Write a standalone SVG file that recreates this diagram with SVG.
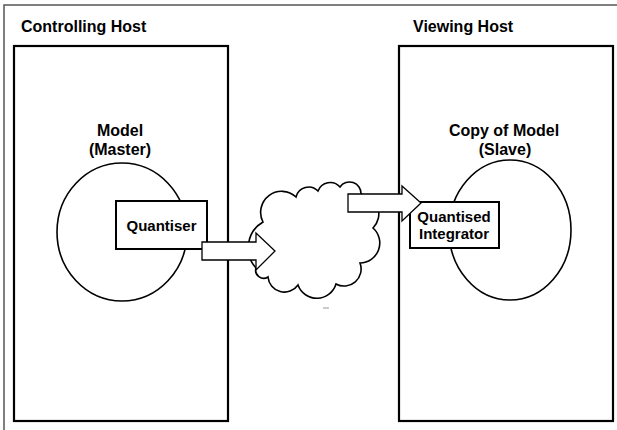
<svg xmlns="http://www.w3.org/2000/svg" width="617" height="430" viewBox="0 0 617 430">
<style>
  text { font-family: "Liberation Sans", Arial, sans-serif; font-weight: bold; fill: #000; }
  .title { font-size: 16px; }
  .lbl { font-size: 16px; text-anchor: middle; }
  .inner { font-size: 15px; text-anchor: middle; }
  .host { fill: #fff; stroke: #000; stroke-width: 2.2; }
  .shape { fill: #fff; stroke: #000; stroke-width: 1.6; }
  .box { fill: #fff; stroke: #000; stroke-width: 2; }
  .arrow { fill: #fff; stroke: #000; stroke-width: 1.3; stroke-linejoin: miter; }
</style>
<rect width="617" height="430" fill="#fff"/>
<g id="frame">
  <path d="M4 430 V5 H617" fill="none" stroke="#555" stroke-width="1.5"/>
</g>
<g id="controlling-host">
  <rect class="host" x="14" y="46" width="214" height="375"/>
  <text class="title" x="21" y="32">Controlling Host</text>
</g>
<g id="viewing-host">
  <rect class="host" x="399" y="46" width="214" height="375"/>
  <text class="title" x="413" y="32">Viewing Host</text>
</g>
<g id="model-master">
  <ellipse class="shape" cx="122" cy="232" rx="65" ry="69"/>
  <text class="lbl" x="120" y="136">Model</text>
  <text class="lbl" x="120" y="155">(Master)</text>
</g>
<g id="model-slave">
  <ellipse class="shape" cx="510" cy="230" rx="61" ry="70"/>
  <text class="lbl" x="504" y="136">Copy of Model</text>
  <text class="lbl" x="505" y="155">(Slave)</text>
</g>
<g id="quantiser">
  <rect class="box" x="116" y="201" width="91" height="48"/>
  <text class="inner" x="161.5" y="230.5">Quantiser</text>
</g>
<g id="quantised-integrator">
  <rect class="box" x="410" y="202" width="89" height="46"/>
  <text class="inner" x="454" y="222">Quantised</text>
  <text class="inner" x="454" y="239">Integrator</text>
</g>
<g id="network">
  <path class="shape" stroke-width="1.3" d="M256 268 A30 30 0 0 1 263 222 A21 21 0 0 1 296 197 A13 13 0 0 1 318 191 A13 13 0 0 1 340 187 A11.5 11.5 0 0 1 361 194 A20 20 0 0 1 373 228 A20 20 0 0 1 360 263 A17 17 0 0 1 336 284 A20 20 0 0 1 298 285 A16.5 16.5 0 0 1 268 277 A8 8 0 0 1 256 268 Z"/>
  <path d="M323 308 H329" stroke="#bbb" stroke-width="1.5"/>
</g>
<g id="connectors">
  <path class="arrow" d="M202 242 H256 V233 L275 251 L256 270 V260 H202 Z"/>
  <path class="arrow" d="M348 194 H402 V186 L421 203 L402 221 V212 H348 Z"/>
</g>
</svg>
